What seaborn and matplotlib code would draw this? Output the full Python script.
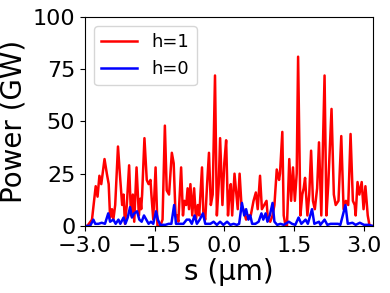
import matplotlib
matplotlib.use("Agg")
import matplotlib.pyplot as plt
import pandas as pd
import seaborn as sns

# h=1 trace (position in um, power in GW)
s_h1 = [-2.95, -2.85, -2.77, -2.73, -2.69, -2.65, -2.61, -2.58, -2.53, -2.49,
        -2.46, -2.42, -2.39, -2.35, -2.29, -2.25, -2.20, -2.17, -2.14, -2.10,
        -2.05, -2.01, -1.97, -1.94, -1.89, -1.84, -1.81, -1.79, -1.77, -1.72,
        -1.67, -1.63, -1.59, -1.57, -1.53, -1.48, -1.44, -1.38, -1.33, -1.28,
        -1.24, -1.19, -1.13, -1.09, -1.05, -1.02, -0.99, -0.93, -0.89, -0.86,
        -0.82, -0.79, -0.76, -0.73, -0.69, -0.65, -0.61, -0.57, -0.54, -0.48,
        -0.45, -0.41, -0.37, -0.33, -0.29, -0.25, -0.20, -0.16, -0.12, -0.09,
        -0.04, 0.00, 0.04, 0.08, 0.11, 0.14, 0.17, 0.22, 0.26, 0.29,
        0.33, 0.37, 0.41, 0.47, 0.52, 0.57, 0.63, 0.68, 0.72, 0.77,
        0.81, 0.86, 0.91, 0.94, 0.99, 1.04, 1.08, 1.13, 1.18, 1.20,
        1.25, 1.28, 1.32, 1.35, 1.40, 1.44, 1.48, 1.52, 1.56, 1.59,
        1.64, 1.68, 1.71, 1.74, 1.79, 1.83, 1.87, 1.91, 1.95, 2.00,
        2.04, 2.09, 2.16, 2.20, 2.24, 2.31, 2.36, 2.40, 2.46, 2.52,
        2.57, 2.62, 2.67, 2.72, 2.77, 2.81, 2.83, 2.87, 2.91, 2.96,
        3.00, 3.04, 3.09, 3.13, 3.17]
p_h1 = [0, 3, 19, 14, 24, 20, 27, 32, 25, 20,
        4, 8, 3, 10, 38, 25, 10, 15, 1, 10,
        29, 5, 15, 2, 28, 5, 13, 8, 15, 42,
        22, 20, 22, 15, 3, 28, 0, 0, 3, 48,
        17, 15, 35, 30, 5, 5, 2, 28, 5, 12,
        10, 18, 8, 20, 5, 18, 3, 10, 5, 28,
        5, 3, 20, 35, 10, 15, 72, 5, 20, 42,
        10, 30, 41, 5, 15, 20, 5, 25, 15, 8,
        25, 10, 8, 3, 5, 5, 12, 16, 8, 24,
        8, 10, 12, 3, 2, 5, 10, 27, 22, 25,
        45, 5, 0, 0, 32, 12, 28, 12, 25, 81,
        5, 15, 18, 23, 5, 15, 36, 12, 8, 18,
        40, 5, 72, 5, 20, 56, 15, 10, 12, 43,
        8, 12, 10, 44, 12, 10, 5, 21, 15, 21,
        8, 19, 5, 0, 0]

# h=0 trace
s_h0 = [-3.00, -2.89, -2.82, -2.78, -2.71, -2.64, -2.57, -2.50, -2.46, -2.39,
        -2.34, -2.28, -2.24, -2.17, -2.13, -2.08, -2.03, -1.99, -1.94, -1.88,
        -1.83, -1.78, -1.73, -1.68, -1.63, -1.58, -1.53, -1.47, -1.43, -1.38,
        -1.27, -1.20, -1.14, -1.08, -1.04, -0.95, -0.88, -0.81, -0.75, -0.70,
        -0.64, -0.59, -0.53, -0.46, -0.41, -0.30, -0.23, -0.16, -0.09, -0.02,
        0.06, 0.13, 0.20, 0.27, 0.32, 0.38, 0.43, 0.47, 0.52, 0.56,
        0.60, 0.67, 0.74, 0.80, 0.84, 0.89, 0.93, 0.98, 1.04, 1.08,
        1.14, 1.21, 1.28, 1.39, 1.46, 1.53, 1.60, 1.66, 1.75, 1.80,
        1.89, 1.94, 2.04, 2.07, 2.16, 2.22, 2.29, 2.36, 2.45, 2.50,
        2.61, 2.66, 2.76, 2.83, 2.92, 3.01, 3.11, 3.19]
p_h0 = [0, 0, 3, 1, 1, 1.5, 1, 6, 2, 3,
        1, 3, 1, 4, 1, 4, 9, 4, 6, 7,
        3, 2, 5, 3, 1, 2, 1, 7, 3, 0.5,
        0.5, 1, 1, 10, 1, 1, 1, 3, 3, 1,
        5, 1, 3, 6, 1, 1, 2, 0.5, 2, 0.5,
        2, 0.5, 1, 0.5, 1, 11, 5, 8, 3, 5,
        1, 1, 2, 6, 3, 6, 2, 5, 11, 2,
        0.5, 1, 0.5, 2, 1, 0.5, 4, 1, 3, 1,
        8, 1, 2, 0.5, 3, 0.5, 1, 1, 1, 0.5,
        10, 1, 1.5, 0.5, 1.5, 0.5, 0.5, 0]

df1 = pd.DataFrame({"s": s_h1, "P": p_h1})
df0 = pd.DataFrame({"s": s_h0, "P": p_h0})

fig, ax = plt.subplots(figsize=(3.9, 2.93), dpi=100)
fig.subplots_adjust(left=0.218, right=0.956, top=0.942, bottom=0.229)

sns.lineplot(data=df1, x="s", y="P", color="red", lw=1.8, label="h=1", ax=ax)
sns.lineplot(data=df0, x="s", y="P", color="blue", lw=1.8, label="h=0", ax=ax)

ax.set_xlim(-3.0, 3.2)
ax.set_ylim(0, 100)
ax.set_xticks([-3.0, -1.5, 0.0, 1.5, 3.0])
ax.set_yticks([0, 25, 50, 75, 100])
ax.tick_params(labelsize=16)
ax.set_xlabel("s (μm)", fontsize=20, labelpad=2)
ax.set_ylabel("Power (GW)", fontsize=20, labelpad=4)
ax.legend(loc="upper left", fontsize=13)

plt.savefig("out.png")
